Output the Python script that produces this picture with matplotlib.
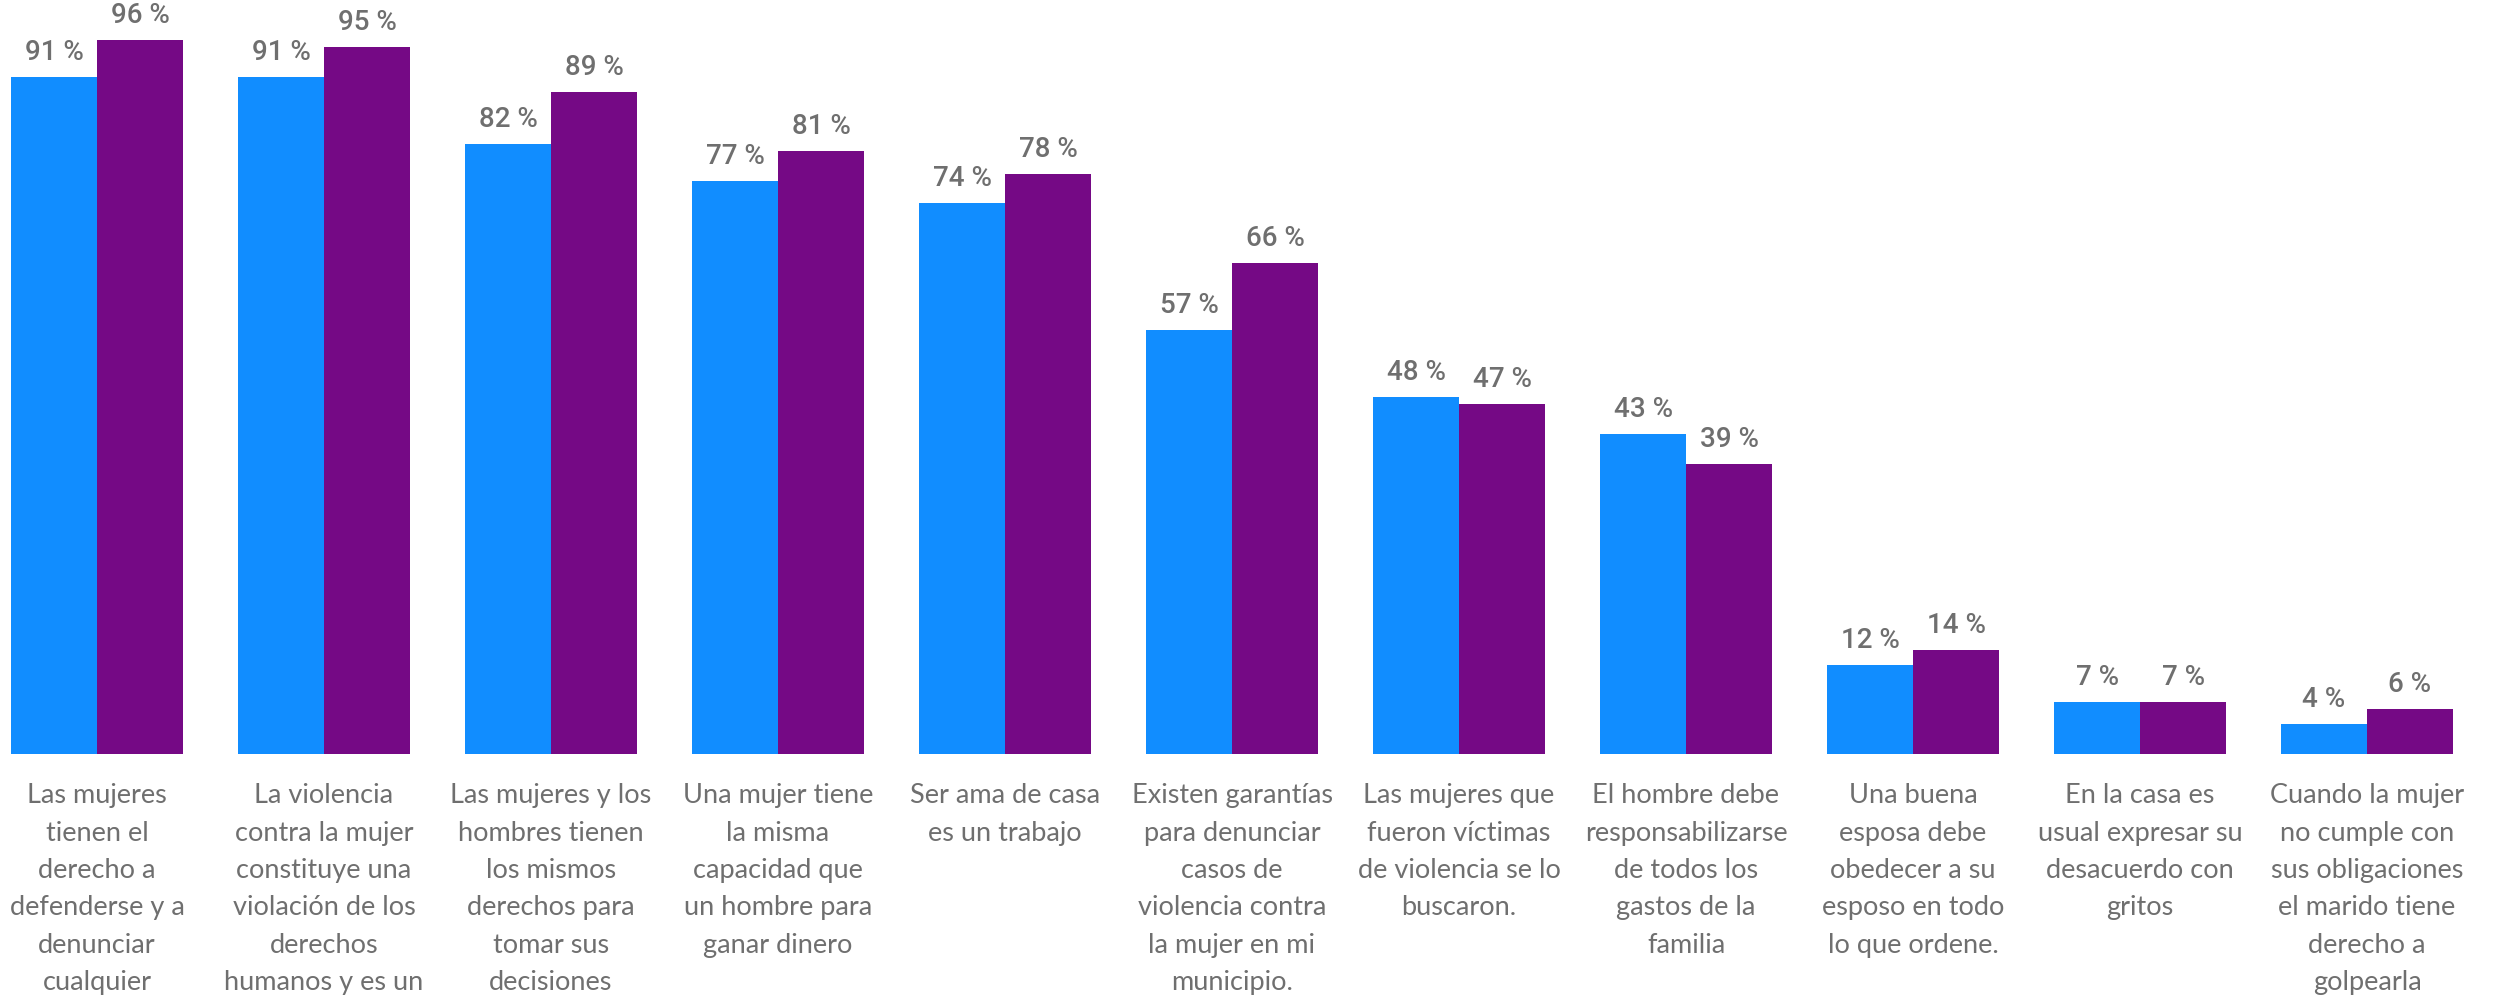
import numpy as np
import matplotlib.pyplot as plt

categories = [
    "Las mujeres\ntienen el\nderecho a\ndefenderse y a\ndenunciar\ncualquier",
    "La violencia\ncontra la mujer\nconstituye una\nviolación de los\nderechos\nhumanos y es un",
    "Las mujeres y los\nhombres tienen\nlos mismos\nderechos para\ntomar sus\ndecisiones",
    "Una mujer tiene\nla misma\ncapacidad que\nun hombre para\nganar dinero",
    "Ser ama de casa\nes un trabajo",
    "Existen garantías\npara denunciar\ncasos de\nviolencia contra\nla mujer en mi\nmunicipio.",
    "Las mujeres que\nfueron víctimas\nde violencia se lo\nbuscaron.",
    "El hombre debe\nresponsabilizarse\nde todos los\ngastos de la\nfamilia",
    "Una buena\nesposa debe\nobedecer a su\nesposo en todo\nlo que ordene.",
    "En la casa es\nusual expresar su\ndesacuerdo con\ngritos",
    "Cuando la mujer\nno cumple con\nsus obligaciones\nel marido tiene\nderecho a\ngolpearla",
]
serie_a = [91, 91, 82, 77, 74, 57, 48, 43, 12, 7, 4]
serie_b = [96, 95, 89, 81, 78, 66, 47, 39, 14, 7, 6]

color_a = '#118DFF'
color_b = '#750985'
gris = '#6f6f6f'

W, H = 2497, 1005
fig = plt.figure(figsize=(W / 100, H / 100), dpi=100)
# ejes: base de las barras en y=754 px, 100 % = 744 px
ax = fig.add_axes([0, (H - 754) / H, 1, 744 / H])

x = np.arange(len(categories))
w = 86 / 227
ax.bar(x - w / 2, serie_a, width=w, color=color_a)
ax.bar(x + w / 2, serie_b, width=w, color=color_b)

for xi, va, vb in zip(x, serie_a, serie_b):
    for pos, v in ((xi - w / 2, va), (xi + w / 2, vb)):
        ax.annotate(f"{v} %", (pos, v), xytext=(0, 8), textcoords='offset points',
                    ha='center', va='bottom', fontsize=20, color=gris,
                    family='Roboto', fontweight='medium')

ax.set_xlim(-97 / 227, 10 + 130 / 227)
ax.set_ylim(0, 100)
ax.set_yticks([])
ax.set_xticks(x)
ax.set_xticklabels(categories, fontsize=19.5, color=gris, family='Lato',
                   linespacing=1.62, va='top')
ax.tick_params(axis='x', length=0, pad=21)
for s in ax.spines.values():
    s.set_visible(False)

fig.savefig('out.png', dpi=100)
